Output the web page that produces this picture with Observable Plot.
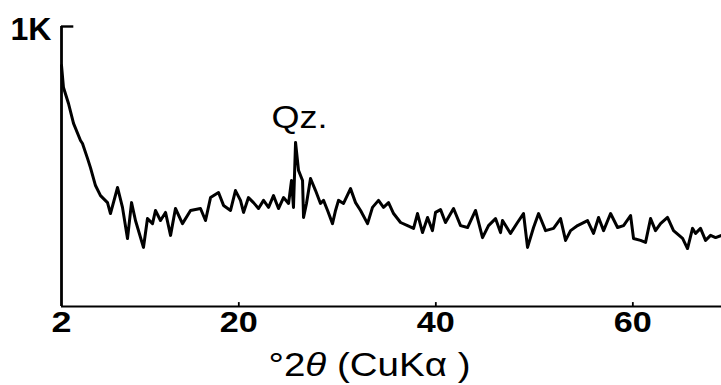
<!DOCTYPE html>
<html>
<head>
<meta charset="utf-8">
<script src="https://cdn.jsdelivr.net/npm/d3@7"></script>
<script src="https://cdn.jsdelivr.net/npm/@observablehq/plot@0.6"></script>
<style>
  html, body { margin: 0; padding: 0; background: #fff; }
  svg { display: block; }
</style>
</head>
<body>
<div id="chart"></div>
<script>
// °2θ (CuKα) positions and intensity (counts)
const degrees = [2.0,2.2,2.71,3.22,3.93,4.13,4.64,4.94,5.45,5.96,6.67,6.97,7.69,8.19,8.7,9.11,9.51,10.32,10.73,11.24,11.54,12.05,12.56,13.07,13.57,14.28,15.1,16.11,16.62,17.13,17.94,18.45,19.16,19.66,20.17,20.48,20.98,21.49,22.0,22.51,23.02,23.52,24.03,24.54,25.05,25.35,25.55,25.76,26.06,26.47,26.57,26.87,27.28,27.79,28.29,28.6,29.01,29.51,29.82,30.12,30.63,31.34,31.85,32.36,33.07,33.57,34.18,34.69,35.2,35.71,36.42,37.13,37.74,38.14,38.65,39.16,39.66,39.97,40.48,40.98,41.8,42.51,43.22,44.03,44.74,45.35,46.06,46.57,46.77,47.58,48.29,48.9,49.31,49.92,50.43,51.14,51.95,52.66,53.17,53.68,54.39,55.4,56.01,56.52,57.03,57.74,58.45,59.06,59.77,60.07,60.78,61.29,61.8,62.3,62.81,63.52,64.13,65.05,65.55,66.06,66.37,66.87,67.38,67.89,68.4,69.0];
const counts  = [861,782,725,654,593,582,529,496,432,396,371,332,425,354,243,371,307,211,314,296,343,307,336,254,350,296,343,350,307,389,407,361,343,414,379,336,389,371,350,379,354,396,350,389,368,450,354,586,486,450,318,368,457,414,368,379,343,296,343,379,368,421,371,343,296,354,379,354,371,332,300,289,279,332,264,318,271,336,346,300,350,289,282,343,246,289,314,264,307,261,300,332,211,282,332,271,279,314,236,271,289,307,261,318,271,332,282,289,325,243,236,229,314,271,296,318,271,243,207,279,261,279,236,254,246,254];

const xDomain = [2, 69];
const yDomain = [0, 1000];
const tickValues = [2, 20, 40, 60];
const tickLabels = ["2", "20", "40", "60"];
const yTopLabel = "1K";
const peakLabel = "Qz.";
const peakAt = 25.76;
const peakCount = 586;
const xTitle = "°2θ (CuKα )";

const data = degrees.map((d, i) => ({deg: d, cnt: counts[i]}));
const ticks = tickValues.map((v, i) => ({v, label: tickLabels[i]}));
const FONT = "Liberation Sans, Arial, Helvetica, sans-serif";

const chart = Plot.plot({
  width: 721,
  height: 385,
  marginLeft: 61,
  marginRight: 0,
  marginTop: 26,
  marginBottom: 79,
  style: {background: "#fff", overflow: "visible"},
  x: {domain: xDomain, axis: null},
  y: {domain: yDomain, axis: null},
  marks: [
    // axes
    Plot.ruleY([0], {x1: xDomain[0], x2: xDomain[1], stroke: "#000", strokeWidth: 2.2}),
    Plot.ruleX([xDomain[0]], {y1: 0, y2: yDomain[1], stroke: "#000", strokeWidth: 2.8}),
    Plot.ruleY([yDomain[1]], {x1: xDomain[0], x2: 3.25, stroke: "#000", strokeWidth: 2.4}),
    Plot.ruleX(tickValues.slice(1), {y1: 0, y2: 14, stroke: "#000", strokeWidth: 1.8}),
    // data
    Plot.line(data, {x: "deg", y: "cnt", stroke: "#000", strokeWidth: 3, strokeLinejoin: "round", curve: "linear"}),
    // tick labels
    Plot.text(ticks, {x: "v", y: 0, text: "label", dy: 5, lineAnchor: "top", fontSize: 29, fontWeight: "bold", fontFamily: FONT, fill: "#000", className: "ticklab"}),
    Plot.text([yTopLabel], {x: xDomain[0], y: yDomain[1], text: d => d, textAnchor: "end", lineAnchor: "middle", dx: -10, dy: 3, fontSize: 32, fontWeight: "bold", fontFamily: FONT, fill: "#000", className: "ylab"}),
    Plot.text([peakLabel], {x: peakAt, y: peakCount, text: d => d, lineAnchor: "bottom", dy: -14, dx: 4, fontSize: 32, fontFamily: FONT, fill: "#000", className: "peaklab"}),
    Plot.text([xTitle], {frameAnchor: "bottom", text: d => d, lineAnchor: "middle", dx: -22, dy: 59, fontSize: 34, fontFamily: FONT, fill: "#000", className: "xtitle"})
  ]
});
document.getElementById("chart").append(chart);

const svg = d3.select(chart);
// italic θ in the axis title
svg.selectAll(".xtitle text").each(function() {
  const t = d3.select(this);
  const s = t.text();
  const i = s.indexOf("θ");
  t.text(null);
  t.append("tspan").text(s.slice(0, i));
  t.append("tspan").attr("font-style", "italic").text("θ");
  t.append("tspan").text(s.slice(i + 1));
  t.attr("textLength", 202).attr("lengthAdjust", "spacingAndGlyphs");
});
// widen the lettering like the original typeface
svg.selectAll(".ticklab text").each(function() {
  const t = d3.select(this);
  const n = t.text().length;
  t.attr("textLength", n === 1 ? 20 : 38).attr("lengthAdjust", "spacingAndGlyphs");
});
svg.selectAll(".ylab text").attr("textLength", 41).attr("lengthAdjust", "spacingAndGlyphs");
svg.selectAll(".peaklab text").attr("textLength", 56).attr("lengthAdjust", "spacingAndGlyphs");
</script>
</body>
</html>
